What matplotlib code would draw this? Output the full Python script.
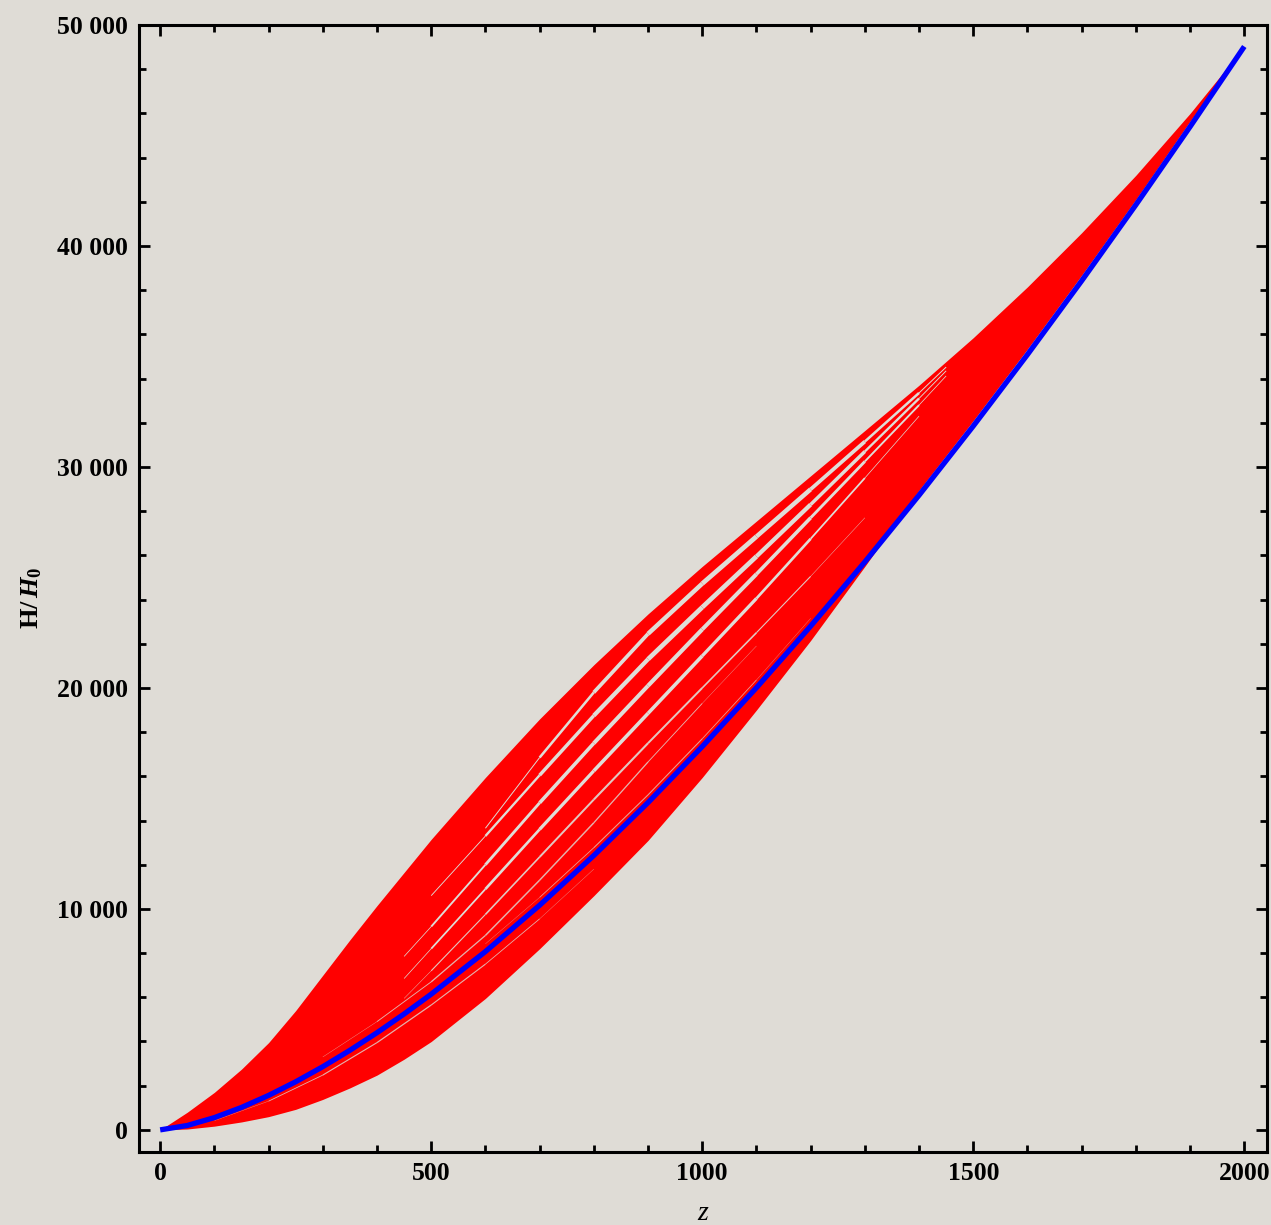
import numpy as np
import matplotlib
matplotlib.use("Agg")
import matplotlib.pyplot as plt
from matplotlib.collections import LineCollection
from matplotlib.ticker import MultipleLocator, FuncFormatter

plt.rcParams['font.family'] = 'Liberation Serif'
plt.rcParams['font.weight'] = 'bold'
plt.rcParams['mathtext.fontset'] = 'custom'
plt.rcParams['mathtext.rm'] = 'Liberation Serif'
plt.rcParams['mathtext.it'] = 'Liberation Serif:italic'
plt.rcParams['mathtext.bf'] = 'Liberation Serif:bold'
plt.rcParams['mathtext.bfit'] = 'Liberation Serif:italic:bold'
plt.rcParams['axes.linewidth'] = 2.2

# ── data ─────────────────────────────────────────────────────────────────────
z = [0, 50, 100, 150, 200, 250, 300, 350, 400, 450, 500, 600, 700, 800, 900,
     1000, 1100, 1200, 1300, 1400, 1500, 1600, 1700, 1800, 1900, 2000]

# upper / lower edge of the red family of curves
red_upper = [0, 800, 1700, 2750, 3950, 5400, 7000, 8600, 10150, 11650, 13150,
             15950, 18600, 21050, 23350, 25500, 27550, 29600, 31650, 33700,
             35850, 38150, 40600, 43200, 46000, 49026]
red_lower = [0, 40, 170, 360, 600, 930, 1380, 1900, 2480, 3200, 4000, 5950,
             8200, 10600, 13100, 15950, 19000, 22150, 25500, 28950, 32100,
             35340, 38680, 42110, 45650, 49026]

# blue reference curve
blue = [1, 199, 556, 1016, 1561, 2178, 2860, 3602, 4398, 5246, 6142, 8070,
        10166, 12417, 14813, 17347, 20010, 22797, 25703, 28722, 31852, 35087,
        38425, 41863, 45398, 49026]

# gaps between neighbouring red curves (where the background shows through)
gap1_z = [600, 700, 800, 900, 1000, 1100, 1200, 1300, 1400, 1450]
gap1_h = [13650, 16850, 19800, 22450, 24720, 26850, 28990, 31150, 33350, 34520]
gap2_z = [500, 600, 700, 800, 900, 1000, 1100, 1200, 1300, 1400, 1450]
gap2_h = [10600, 13300, 16050, 18750, 21300, 23650, 25950, 28300, 30700, 33100, 34350]
gap3_z = [450, 500, 600, 700, 800, 900, 1000, 1100, 1200, 1300, 1400, 1450]
gap3_h = [7850, 9200, 12000, 14800, 17500, 20100, 22650, 25150, 27700, 30250, 32800, 34120]
gap4_z = [450, 500, 600, 700, 800, 900, 1000, 1100, 1200, 1300, 1400]
gap4_h = [6850, 8200, 10900, 13600, 16250, 18850, 21450, 24050, 26750, 29500, 32300]
gap5_z = [450, 500, 600, 700, 800, 900, 1000, 1100, 1200, 1300]
gap5_h = [5950, 7200, 9750, 12350, 14950, 17500, 20000, 22500, 25050, 27700]
gap6_z = [300, 400, 500, 600, 700, 800, 900, 1000, 1100]
gap6_h = [3300, 4900, 6700, 8800, 11300, 13900, 16650, 19300, 21900]
gap7_z = [600, 700, 800, 900, 1000, 1100, 1200]
gap7_h = [8420, 10520, 12770, 15160, 17700, 20360, 23150]
gap8_z = [100, 200, 300, 400, 500, 600, 700, 800]
gap8_h = [420, 1300, 2480, 3950, 5650, 7500, 9550, 11800]

# ── style ─────────────────────────────────────────────────────────────────────
BG = '#dfdcd6'
RED = '#ff0000'
BLUE = '#0000ff'

fig = plt.figure(figsize=(12.71, 12.25), dpi=100)
fig.patch.set_facecolor(BG)
ax = fig.add_axes([0.1094, 0.0596, 0.8875, 0.9200])
ax.set_facecolor(BG)


def gap_line(gz, gh, wmax, alpha=1.0):
    # thin background-coloured line, narrowing towards both ends
    pts = np.column_stack([gz, gh])
    segs = np.stack([pts[:-1], pts[1:]], axis=1)
    t = (np.arange(len(segs)) + 0.5) / len(segs)
    widths = wmax * np.sin(np.pi * t) ** 0.9
    ax.add_collection(LineCollection(segs, linewidths=widths, colors=BG,
                                     alpha=alpha, capstyle='butt', zorder=3))


ax.fill_between(z, red_lower, red_upper, color=RED, lw=0, zorder=2)

gap_line(gap1_z, gap1_h, 3.4)
gap_line(gap2_z, gap2_h, 3.4)
gap_line(gap3_z, gap3_h, 3.0)
gap_line(gap4_z, gap4_h, 2.6)
gap_line(gap5_z, gap5_h, 1.5, 0.9)
gap_line(gap6_z, gap6_h, 1.1, 0.8)
gap_line(gap7_z, gap7_h, 0.8, 0.7)
gap_line(gap8_z, gap8_h, 0.9, 0.8)

ax.plot(z, blue, color=BLUE, lw=3.8, solid_capstyle='butt', zorder=4)

# ── axes ──────────────────────────────────────────────────────────────────────
ax.set_xlim(-39, 2042)
ax.set_ylim(-1000, 50000)

ax.xaxis.set_major_locator(MultipleLocator(500))
ax.xaxis.set_minor_locator(MultipleLocator(100))
ax.yaxis.set_major_locator(MultipleLocator(10000))
ax.yaxis.set_minor_locator(MultipleLocator(2000))
ax.yaxis.set_major_formatter(FuncFormatter(lambda v, p: f'{int(v):,}'.replace(',', ' ')))
ax.xaxis.set_major_formatter(FuncFormatter(lambda v, p: f'{int(v)}'))

ax.tick_params(which='both', direction='in', top=True, right=True,
               width=2.0, colors='black', labelsize=18.5)
ax.tick_params(which='major', length=8)
ax.tick_params(which='minor', length=5)
ax.tick_params(axis='y', pad=8)
ax.tick_params(axis='x', pad=7)

fig.text(703 / 1271, 1 - 1213 / 1225, 'z', style='italic', weight='normal',
         fontsize=20, ha='center', va='center')
fig.text(32 / 1271, 1 - 598 / 1225, r'$\mathbf{H/}\,\mathbfit{H}_{\mathbf{0}}$',
         rotation=90, fontsize=19, ha='center', va='center')

fig.savefig('out.png', dpi=100, facecolor=BG)
